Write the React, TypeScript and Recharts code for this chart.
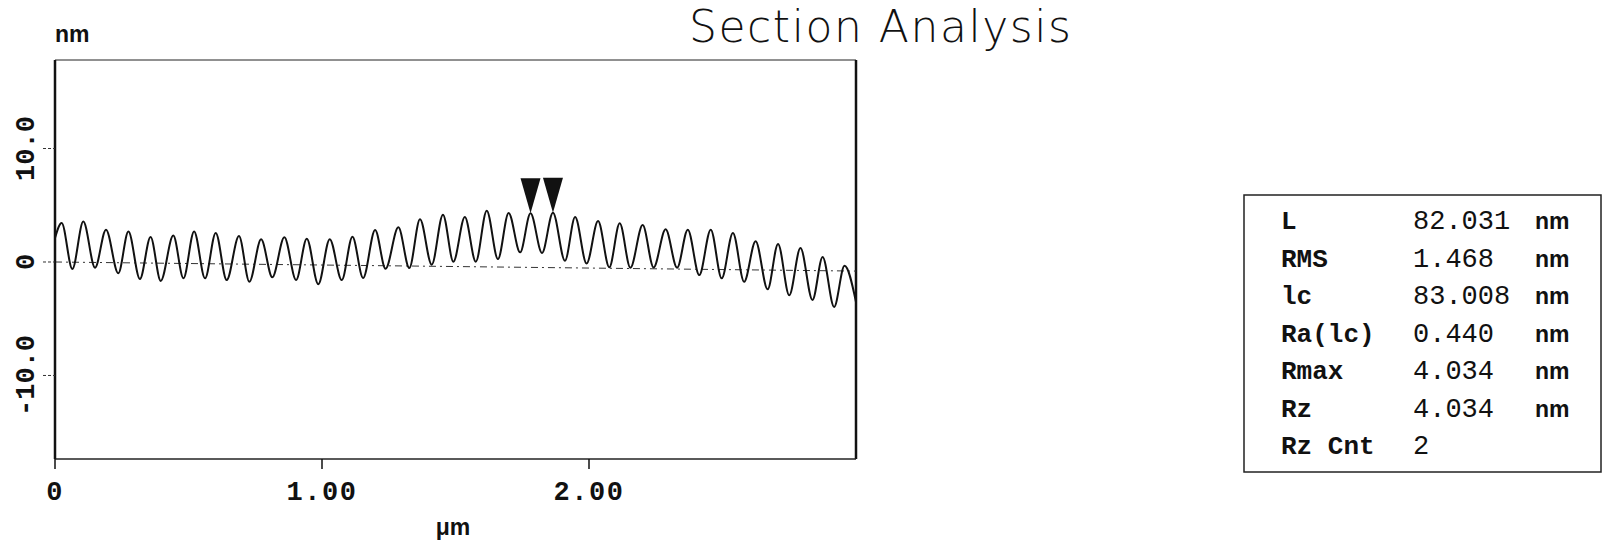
import React from 'react'
import {
  ComposedChart,
  Line,
  Scatter,
  XAxis,
  YAxis,
  ReferenceLine,
  ReferenceArea,
} from 'recharts'

// profile extremes: position (µm) and height (nm)
const profileX = [
  0, 0.025, 0.065, 0.106, 0.15, 0.191, 0.237, 0.275, 0.318, 0.358, 0.396, 0.443, 0.481, 0.521, 0.562, 0.602,
  0.643, 0.689, 0.728, 0.772, 0.814, 0.859, 0.903, 0.943, 0.986, 1.029, 1.074, 1.114, 1.154, 1.199, 1.238,
  1.286, 1.327, 1.367, 1.411, 1.453, 1.492, 1.535, 1.576, 1.617, 1.659, 1.699, 1.742, 1.781, 1.824, 1.865,
  1.91, 1.948, 1.991, 2.034, 2.076, 2.115, 2.155, 2.201, 2.242, 2.287, 2.33, 2.37, 2.413, 2.456, 2.497, 2.539,
  2.581, 2.624, 2.669, 2.708, 2.75, 2.792, 2.837, 2.875, 2.918, 2.957, 3.0,
]
const profileZ = [
  2.11, 3.44, -0.62, 3.57, -0.5, 2.85, -1.0, 2.69, -1.5, 2.2, -1.67, 2.33, -1.44, 2.69, -1.44, 2.56,
  -1.59, 2.29, -1.74, 2.0, -1.35, 2.18, -1.59, 2.05, -1.96, 2.01, -1.59, 2.23, -1.41, 2.82, -0.59,
  3.06, -0.53, 3.77, -0.24, 4.17, 0.03, 3.96, 0.03, 4.52, 0.26, 4.32, 0.85, 4.29, 0.79, 4.34,
  0.11, 3.96, -0.13, 3.61, -0.47, 3.41, -0.51, 3.26, -0.48, 2.88, -0.51, 2.85, -1.15, 2.85, -1.44, 2.56,
  -1.74, 1.83, -2.41, 1.59, -2.93, 1.23, -3.35, 0.44, -3.96, -0.33, -3.52,
]

// section cursors (the two triangles)
const cursorX = [1.781, 1.865]
const cursorZ = [4.29, 4.34]

// least-squares reference line (dashed)
const fitX = [0, 3.0]
const fitZ = [0, -0.8]

const xTicks = [0, 1, 2]
const yTicks = [-10, 0, 10]
const xDomain = [0, 3.0]
const yDomain = [-17.36, 17.8]

const statLabels = ['L', 'RMS', 'lc', 'Ra(lc)', 'Rmax', 'Rz', 'Rz Cnt']
const statValues = ['82.031', '1.468', '83.008', '0.440', '4.034', '4.034', '2']
const statUnits = ['nm', 'nm', 'nm', 'nm', 'nm', 'nm', '']

const profile = profileX.map((x, i) => ({ x, z: profileZ[i] }))
const cursors = cursorX.map((x, i) => ({ x, z: cursorZ[i] }))

const MONO = '"Liberation Mono", "DejaVu Sans Mono", monospace'
const SANS = '"Liberation Sans", Arial, sans-serif'

function YTick({ x, y, payload }: any) {
  const v = payload.value
  const label = v === 0 ? '0' : v.toFixed(1)
  const bx = x - 7
  return (
    <g>
      <text
        x={bx}
        y={y}
        transform={`rotate(-90 ${bx} ${y})`}
        textAnchor="middle"
        fontFamily={MONO}
        fontWeight="bold"
        fontSize={27}
        fill="#111"
      >
        {label}
      </text>
    </g>
  )
}

function XTick({ x, y, payload }: any) {
  const v = payload.value
  const label = v === 0 ? '0' : v.toFixed(2)
  return (
    <text
      x={x}
      y={y + 29}
      textAnchor="middle"
      fontFamily={MONO}
      fontWeight="bold"
      fontSize={27}
      letterSpacing={1.5}
      fill="#111"
    >
      {label}
    </text>
  )
}

function Cursor({ cx, cy }: any) {
  return <polygon points={`${cx - 10},${cy - 35} ${cx + 10},${cy - 35} ${cx},${cy}`} fill="#111" />
}

export default function App() {
  return (
    <div style={{ position: 'absolute', left: 0, top: 0, width: 1607, height: 544, background: '#fff' }}>
      <ComposedChart
        width={1607}
        height={544}
        data={profile}
        margin={{ top: 60, right: 751, bottom: 25, left: 5 }}
      >
        <XAxis
          dataKey="x"
          type="number"
          domain={xDomain}
          ticks={xTicks}
          allowDataOverflow
          height={60}
          axisLine={{ stroke: '#222', strokeWidth: 1 }}
          tickLine={{ stroke: '#111', strokeWidth: 1.5 }}
          tickSize={10}
          tick={<XTick />}
        />
        <YAxis
          type="number"
          domain={yDomain}
          ticks={yTicks}
          allowDataOverflow
          width={50}
          axisLine={{ stroke: '#111', strokeWidth: 2.5 }}
          tickLine={{ stroke: '#333', strokeWidth: 1, strokeDasharray: '3 2' }}
          tickSize={12}
          tick={<YTick />}
        />
        <ReferenceArea
          x1={xDomain[0]}
          x2={xDomain[1]}
          y1={yDomain[0]}
          y2={yDomain[1]}
          fill="none"
          stroke="#222"
          strokeWidth={1}
          ifOverflow="visible"
        />
        <ReferenceLine x={xDomain[1]} stroke="#111" strokeWidth={2.5} ifOverflow="visible" />
        <ReferenceLine
          segment={[
            { x: fitX[0], y: fitZ[0] },
            { x: fitX[1], y: fitZ[1] },
          ]}
          stroke="#333"
          strokeWidth={1}
          strokeDasharray="7 4 2 4"
        />
        <Line
          type="monotone"
          dataKey="z"
          stroke="#111"
          strokeWidth={2}
          dot={false}
          activeDot={false}
          isAnimationActive={false}
        />
        <Scatter data={cursors} dataKey="z" shape={<Cursor />} isAnimationActive={false} />
      </ComposedChart>

      <svg
        width={1607}
        height={544}
        style={{ position: 'absolute', left: 0, top: 0, pointerEvents: 'none' }}
      >
        <text
          x={689}
          y={42}
          fontFamily='"DejaVu Sans", sans-serif'
          fontWeight={200}
          fontSize={44}
          textLength={382}
          lengthAdjust="spacing"
          fill="#111"
        >
          Section Analysis
        </text>
        <text x={55} y={42} fontFamily={SANS} fontWeight="bold" fontSize={23} fill="#111">
          nm
        </text>
        <text x={453} y={535} textAnchor="middle" fontFamily={SANS} fontWeight="bold" fontSize={23} fill="#111">
          μm
        </text>

        <rect x={1244} y={195} width={357} height={277} fill="none" stroke="#222" strokeWidth={1.5} />
        {statLabels.map((lab, i) => {
          const y = 229 + i * 37.5
          return (
            <g key={lab}>
              <text x={1281} y={y} fontFamily={MONO} fontWeight="bold" fontSize={26} fill="#111">
                {lab}
              </text>
              <text x={1413} y={y} fontFamily={MONO} fontSize={27} fill="#111">
                {statValues[i]}
              </text>
              <text x={1535} y={y} fontFamily={SANS} fontWeight="bold" fontSize={23} fill="#111">
                {statUnits[i]}
              </text>
            </g>
          )
        })}
      </svg>
    </div>
  )
}
